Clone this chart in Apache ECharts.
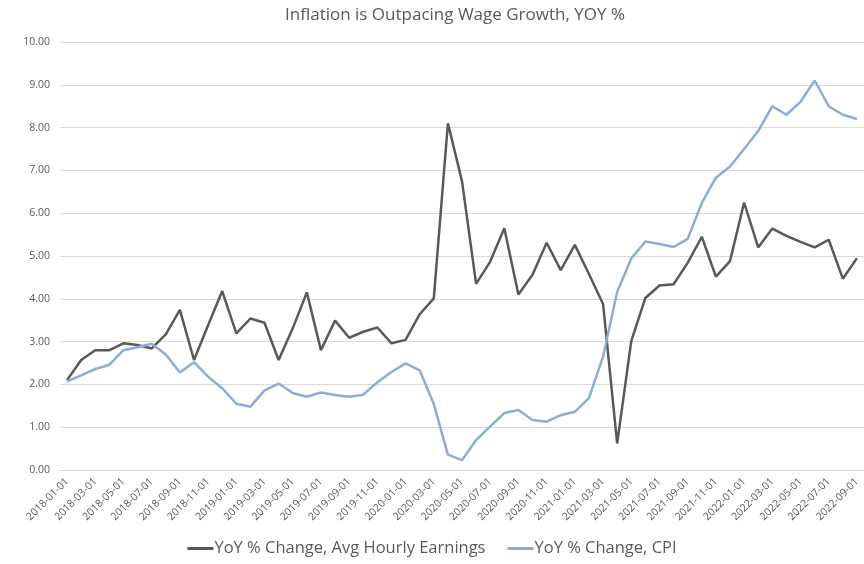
<!DOCTYPE html>
<html>
<head>
<meta charset="utf-8">
<script src="https://cdn.jsdelivr.net/npm/echarts@6/dist/echarts.min.js"></script>
<style>
  html, body { margin: 0; padding: 0; background: #fff; }
  #main { width: 864px; height: 564px; }
</style>
</head>
<body>
<div id="main"></div>
<script>
// monthly dates, 2018-01 .. 2022-09
var months = [];
for (var y = 2018; y <= 2022; y++) {
  for (var m = 1; m <= 12; m++) {
    if (y === 2022 && m > 9) break;
    months.push(y + '-' + (m < 10 ? '0' + m : m) + '-01');
  }
}

var earnings = [
  2.10, 2.57, 2.80, 2.80, 2.96, 2.92, 2.84, 3.17, 3.74, 2.57, 3.38, 4.18,
  3.19, 3.54, 3.44, 2.57, 3.31, 4.15, 2.80, 3.49, 3.09, 3.23, 3.33, 2.96,
  3.04, 3.64, 4.01, 8.10, 6.75, 4.35, 4.87, 5.65, 4.10, 4.56, 5.31, 4.67,
  5.26, 4.58, 3.88, 0.62, 3.01, 4.02, 4.31, 4.34, 4.84, 5.45, 4.52, 4.88,
  6.25, 5.20, 5.64, 5.47, 5.33, 5.20, 5.38, 4.47, 4.95
];

var cpi = [
  2.07, 2.21, 2.36, 2.46, 2.80, 2.87, 2.95, 2.70, 2.28, 2.52, 2.18, 1.91,
  1.55, 1.48, 1.86, 2.02, 1.80, 1.71, 1.81, 1.75, 1.71, 1.76, 2.05, 2.29,
  2.49, 2.33, 1.54, 0.36, 0.23, 0.70, 1.02, 1.33, 1.40, 1.17, 1.13, 1.28,
  1.36, 1.68, 2.65, 4.16, 4.94, 5.34, 5.28, 5.21, 5.40, 6.24, 6.83, 7.09,
  7.50, 7.92, 8.50, 8.30, 8.60, 9.10, 8.50, 8.30, 8.20
];

var seriesNames = ['YoY % Change, Avg Hourly Earnings', 'YoY % Change, CPI'];

var chart = echarts.init(document.getElementById('main'));
var font = '"Open Sans", "Noto Sans", sans-serif';

var option = {
  animation: false,
  title: {
    text: 'Inflation is Outpacing Wage Growth, YOY %',
    left: 280,
    top: 2,
    textStyle: { fontFamily: font, fontSize: 17, fontWeight: 'normal', color: '#595959' }
  },
  legend: {
    data: seriesNames,
    top: 535,
    left: 'center',
    icon: 'rect',
    itemWidth: 26,
    itemHeight: 3,
    itemGap: 22,
    textStyle: { fontFamily: font, fontSize: 16.5, color: '#595959', padding: [0, 0, 0, -4] }
  },
  grid: {
    left: 60,
    right: -5,
    top: 42,
    bottom: 94
  },
  xAxis: {
    type: 'category',
    boundaryGap: true,
    data: months,
    axisLine: { lineStyle: { color: '#d9d9d9', width: 1 } },
    axisTick: { show: false },
    axisLabel: {
      interval: 1,
      rotate: 45,
      fontFamily: font,
      fontSize: 10.5,
      color: '#595959',
      margin: 10
    }
  },
  yAxis: {
    type: 'value',
    min: 0,
    max: 10,
    interval: 1,
    axisLine: { show: false },
    axisTick: { show: false },
    splitLine: { lineStyle: { color: '#d9d9d9', width: 1 } },
    axisLabel: {
      formatter: function (v) { return v.toFixed(2); },
      fontFamily: font,
      fontSize: 10.5,
      color: '#595959',
      margin: 10
    }
  },
  series: [{
    name: seriesNames[0],
    type: 'line',
    data: earnings,
    showSymbol: false,
    lineStyle: { color: '#595959', width: 2.5 },
    itemStyle: { color: '#595959' }
  }, {
    name: seriesNames[1],
    type: 'line',
    data: cpi,
    showSymbol: false,
    lineStyle: { color: '#8faadc', width: 2.5 },
    itemStyle: { color: '#8faadc' }
  }]
};
chart.setOption(option);
</script>
</body>
</html>
